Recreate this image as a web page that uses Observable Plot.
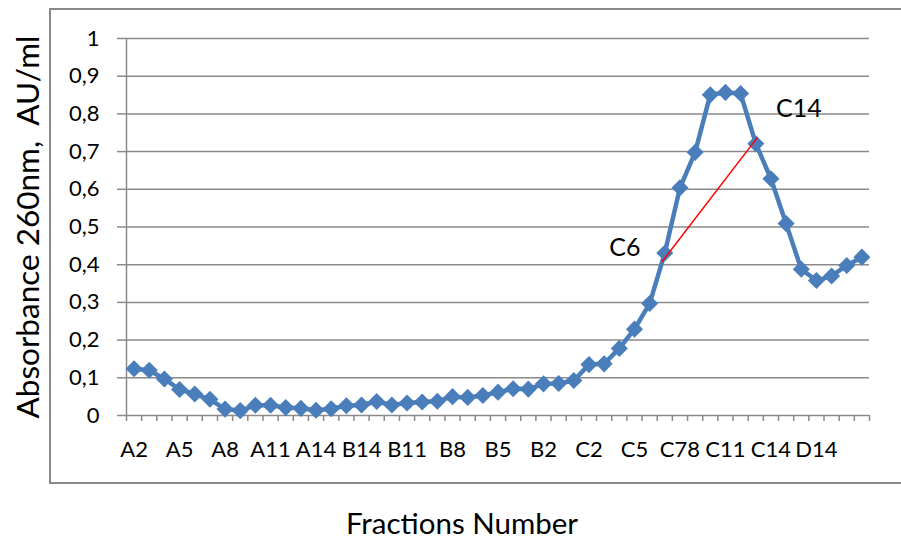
<!DOCTYPE html>
<html><head><meta charset="utf-8">
<script src="https://cdn.jsdelivr.net/npm/d3@7"></script>
<script src="https://cdn.jsdelivr.net/npm/@observablehq/plot@0.6"></script>
<style>
html,body{margin:0;padding:0;background:#fff;overflow:hidden;}
#wrap{position:relative;width:901px;height:539px;}
#box{position:absolute;left:49px;top:8px;width:870px;height:472px;border:2px solid #888;pointer-events:none;}
#wrap svg{position:absolute;left:0;top:0;}
</style></head><body><div id="wrap"><div id="box"></div></div>
<script>
const fractions = [
  "A2","A3","A4","A5","A6","A7","A8","A9","A10","A11","A12","A13","A14","A15",
  "B15","B14","B13","B12","B11","B10","B9","B8","B7","B6","B5","B4","B3","B2","B1",
  "C1","C2","C3","C4","C5","C5b","C6","C78","C9","C10","C11","C12","C13","C14","C15",
  "D15","D14","D13","D12","D11"
];
const absorbance = [
  0.124,0.120,0.097,0.069,0.057,0.043,0.017,0.013,0.027,0.027,0.021,0.019,0.014,0.018,
  0.026,0.028,0.037,0.028,0.033,0.036,0.038,0.050,0.048,0.053,0.062,0.071,0.070,0.084,0.085,
  0.093,0.135,0.137,0.178,0.229,0.297,0.431,0.604,0.698,0.851,0.857,0.854,0.721,0.628,0.509,
  0.388,0.358,0.370,0.398,0.420
];
const tickLabels = ["A2","A5","A8","A11","A14","B14","B11","B8","B5","B2","C2","C5","C78","C11","C14","D14"];
const yTicks = [0,0.1,0.2,0.3,0.4,0.5,0.6,0.7,0.8,0.9,1];
// annotated points (index into fractions) and their labels
const annotIdx = [35, 41];
const annotText = ["C6", "C14"];
// red guide line endpoints (fraction index, absorbance)
const redLineX = [34.84, 41.1];
const redLineY = [0.409, 0.737];
const xTitle = "Fractions Number";
const yTitle = "Absorbance 260nm,\u00a0 AU/ml";

const data = fractions.map((f, i) => ({i, f, v: absorbance[i]}));
const redLine = redLineX.map((x, k) => ({x, y: redLineY[k]}));
const labelIdx = tickLabels.map(t => fractions.indexOf(t));
const boundaries = d3.range(-0.5, fractions.length, 1);
const fmt = d => d === 0 ? "0" : d === 1 ? "1" : d3.format(".1f")(d).replace(".", ",");
const ann = annotIdx.map((i, k) => ({i, v: absorbance[i], label: annotText[k]}));

const gray = "#8a8a8a";
const blue = "#4a7ebb";

const chart = Plot.plot({
  width: 901, height: 539,
  marginLeft: 126, marginRight: 32, marginTop: 38, marginBottom: 124,
  style: {fontFamily: "Lato", fontSize: "22px", color: "#000", background: "transparent", overflow: "visible"},
  x: {type: "linear", domain: [-0.5, fractions.length - 0.5]},
  y: {domain: [0, 1]},
  marks: [
    Plot.gridY(yTicks, {stroke: gray, strokeOpacity: 1, strokeWidth: 1.5}),
    Plot.axisY(yTicks, {tickSize: 9, tickPadding: 18, tickFormat: fmt, stroke: gray, strokeWidth: 1.5, fontSize: 22, label: null}),
    Plot.ruleX([-0.5], {stroke: gray, strokeWidth: 1.5}),
    Plot.axisX(boundaries, {tickSize: 6, tickFormat: () => "", stroke: gray, strokeWidth: 1.5, label: null}),
    Plot.axisX(labelIdx, {tickSize: 0, tickPadding: 26, tickFormat: i => fractions[i], fontSize: 22, label: null}),
    Plot.line(data, {x: "i", y: "v", stroke: blue, strokeWidth: 4.5, curve: "linear"}),
    Plot.dot(data, {x: "i", y: "v", symbol: "diamond2", r: 7.7, fill: blue, stroke: "none"}),
    Plot.line(redLine, {x: "x", y: "y", stroke: "#ff0000", strokeWidth: 1.5}),
    Plot.text(ann.slice(0, 1), {x: "i", y: "v", text: "label", dx: -40, dy: -5, fontSize: 25, fill: "#000"}),
    Plot.text(ann.slice(1), {x: "i", y: "v", text: "label", dx: 43, dy: -35, fontSize: 25, fill: "#000"}),
    Plot.text([xTitle], {frameAnchor: "bottom", textAnchor: "middle", lineAnchor: "middle", dx: -36, dy: 109, fontSize: 29.5, fill: "#000"}),
    Plot.text([yTitle], {frameAnchor: "left", textAnchor: "middle", lineAnchor: "middle", rotate: -90, dx: -98, fontSize: 31.5, fill: "#000"})
  ]
});
document.getElementById("wrap").prepend(chart);
</script>
</body></html>
